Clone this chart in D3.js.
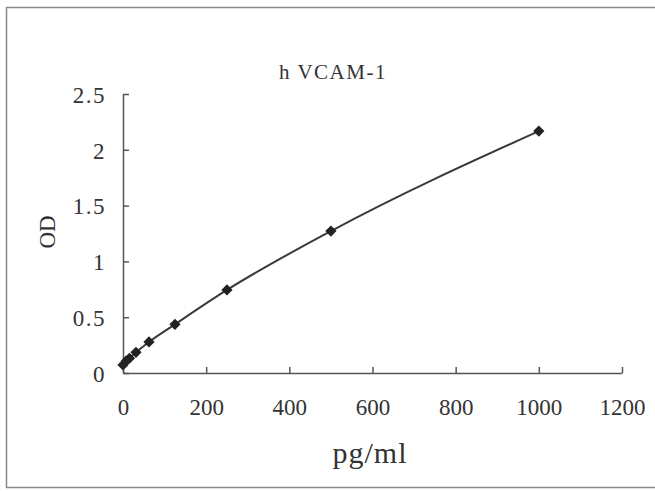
<!DOCTYPE html>
<html>
<head>
<meta charset="utf-8">
<script src="https://cdn.jsdelivr.net/npm/d3@7"></script>
<style>
  html, body { margin: 0; padding: 0; background: #fff; overflow: hidden; }
  svg { display: block; }
  text { font-family: "Liberation Serif", "DejaVu Serif", serif; fill: #333; }
</style>
</head>
<body>
<div id="chart"></div>
<script>
// standard curve data
const conc = [0, 7.8, 15.6, 31.25, 62.5, 125, 250, 500, 1000];
const od = [0.072, 0.108, 0.132, 0.185, 0.278, 0.436, 0.744, 1.272, 2.168];
const xTicks = [0, 200, 400, 600, 800, 1000, 1200];
const yTicks = [0, 0.5, 1, 1.5, 2, 2.5];

const W = 655, H = 491;
const AXIS_COLOR = "#555";
const LINE_COLOR = "#3a3a3a";

const svg = d3.select("#chart").append("svg")
    .attr("width", W).attr("height", H);

// scanned frame: top, left and bottom edges only
svg.append("path")
    .attr("d", `M ${W} 7.5 H 6.5 V 487.5 H ${W}`)
    .style("fill", "none").style("stroke", "#888").style("stroke-width", 1.5);

const x = d3.scaleLinear().domain([0, 1200]).range([123, 622]);
const y = d3.scaleLinear().domain([0, 2.5]).range([373, 94]);

// x axis, ticks pointing up
const gx = svg.append("g").attr("transform", `translate(0,${y(0)})`)
    .call(d3.axisBottom(x).tickValues(xTicks).tickSize(-6).tickPadding(26).tickSizeOuter(0)
        .tickFormat(d3.format("d")));
gx.selectAll("text").style("font-size", "23px");

// y axis, ticks pointing right
const gy = svg.append("g").attr("transform", `translate(${x(0)},0)`)
    .call(d3.axisLeft(y).tickValues(yTicks).tickSize(-6).tickPadding(17).tickSizeOuter(0)
        .tickFormat(d => String(d)));
gy.selectAll("text").style("font-size", "23px").style("letter-spacing", "1.5px").attr("dy", "0.36em");

svg.selectAll(".domain, .tick line").style("stroke", AXIS_COLOR).style("stroke-width", 1.5);
svg.selectAll(".tick text").style("fill", "#333");

// titles
svg.append("text").attr("x", 333).attr("y", 79).attr("text-anchor", "middle")
    .style("font-size", "21px").style("letter-spacing", "1.5px").text("h VCAM-1");
svg.append("text").attr("x", 370).attr("y", 463).attr("text-anchor", "middle")
    .style("font-size", "30px").style("letter-spacing", "1px").text("pg/ml");
svg.append("text").attr("transform", "translate(55,232) rotate(-90)").attr("text-anchor", "middle")
    .style("font-size", "23px").text("OD");

// curve
const pts = conc.map((c, i) => [c, od[i]]);
svg.append("path").datum(pts)
    .attr("d", d3.line().x(d => x(d[0])).y(d => y(d[1])).curve(d3.curveMonotoneX))
    .style("fill", "none").style("stroke", LINE_COLOR).style("stroke-width", 2);

// diamond markers
svg.selectAll("path.pt").data(pts).enter().append("path")
    .attr("class", "pt")
    .attr("transform", d => `translate(${x(d[0])},${y(d[1])})`)
    .attr("d", d3.symbol().type(d3.symbolDiamond2).size(80))
    .style("fill", "#222");
</script>
</body>
</html>
